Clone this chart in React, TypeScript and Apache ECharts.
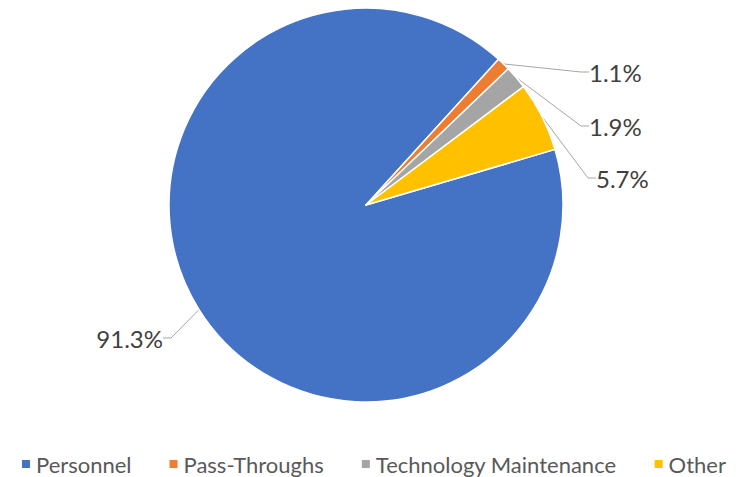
import React, { useEffect, useRef } from "react";
import * as echarts from "echarts";

const categories = ["Personnel", "Pass-Throughs", "Technology Maintenance", "Other"];
const values = [91.3, 1.1, 1.9, 5.7];
const colors = ["#4472C4", "#ED7D31", "#A5A5A5", "#FFC000"];

// label anchor positions (layout only)
const labelAnchors = [
  { x: 163, y: 338, align: "right" },
  { x: 589, y: 72, align: "left" },
  { x: 589, y: 126, align: "left" },
  { x: 596, y: 178, align: "left" },
];

const FONT = "Lato";

export default function App() {
  const ref = useRef<HTMLDivElement>(null);
  useEffect(() => {
    const chart = echarts.init(ref.current!, null, { renderer: "svg" });
    chart.setOption({
      animation: false,
      color: colors,
      legend: {
        top: 446,
        left: 15,
        icon: "rect",
        itemWidth: 10,
        itemHeight: 10,
        itemGap: 36,
        textStyle: {
          fontFamily: FONT,
          fontSize: 22,
          lineHeight: 26,
          color: "#595959",
        },
        data: categories,
      },
      series: [
        {
          type: "pie",
          center: [366, 205],
          radius: 197,
          startAngle: 16.4,
          clockwise: true,
          avoidLabelOverlap: false,
          itemStyle: { borderColor: "#ffffff", borderWidth: 1.5 },
          label: {
            show: true,
            position: "outside",
            formatter: (p: any) => p.value.toFixed(1) + "%",
            fontFamily: FONT,
            fontSize: 24,
            color: "#404040",
          },
          labelLine: {
            show: true,
            length: 30,
            length2: 8,
            lineStyle: { color: "#A6A6A6", width: 1 },
          },
          labelLayout: (p: any) => {
            const a = labelAnchors[p.dataIndex];
            return { x: a.x, y: a.y, align: a.align, verticalAlign: "middle", moveOverlap: "none" };
          },
          data: categories.map((c, i) => ({ name: c, value: values[i] })),
        },
      ],
    });
    return () => chart.dispose();
  }, []);
  return (
    <div
      ref={ref}
      style={{ position: "fixed", left: 0, top: 0, width: 744, height: 477, background: "#fff" }}
    />
  );
}
